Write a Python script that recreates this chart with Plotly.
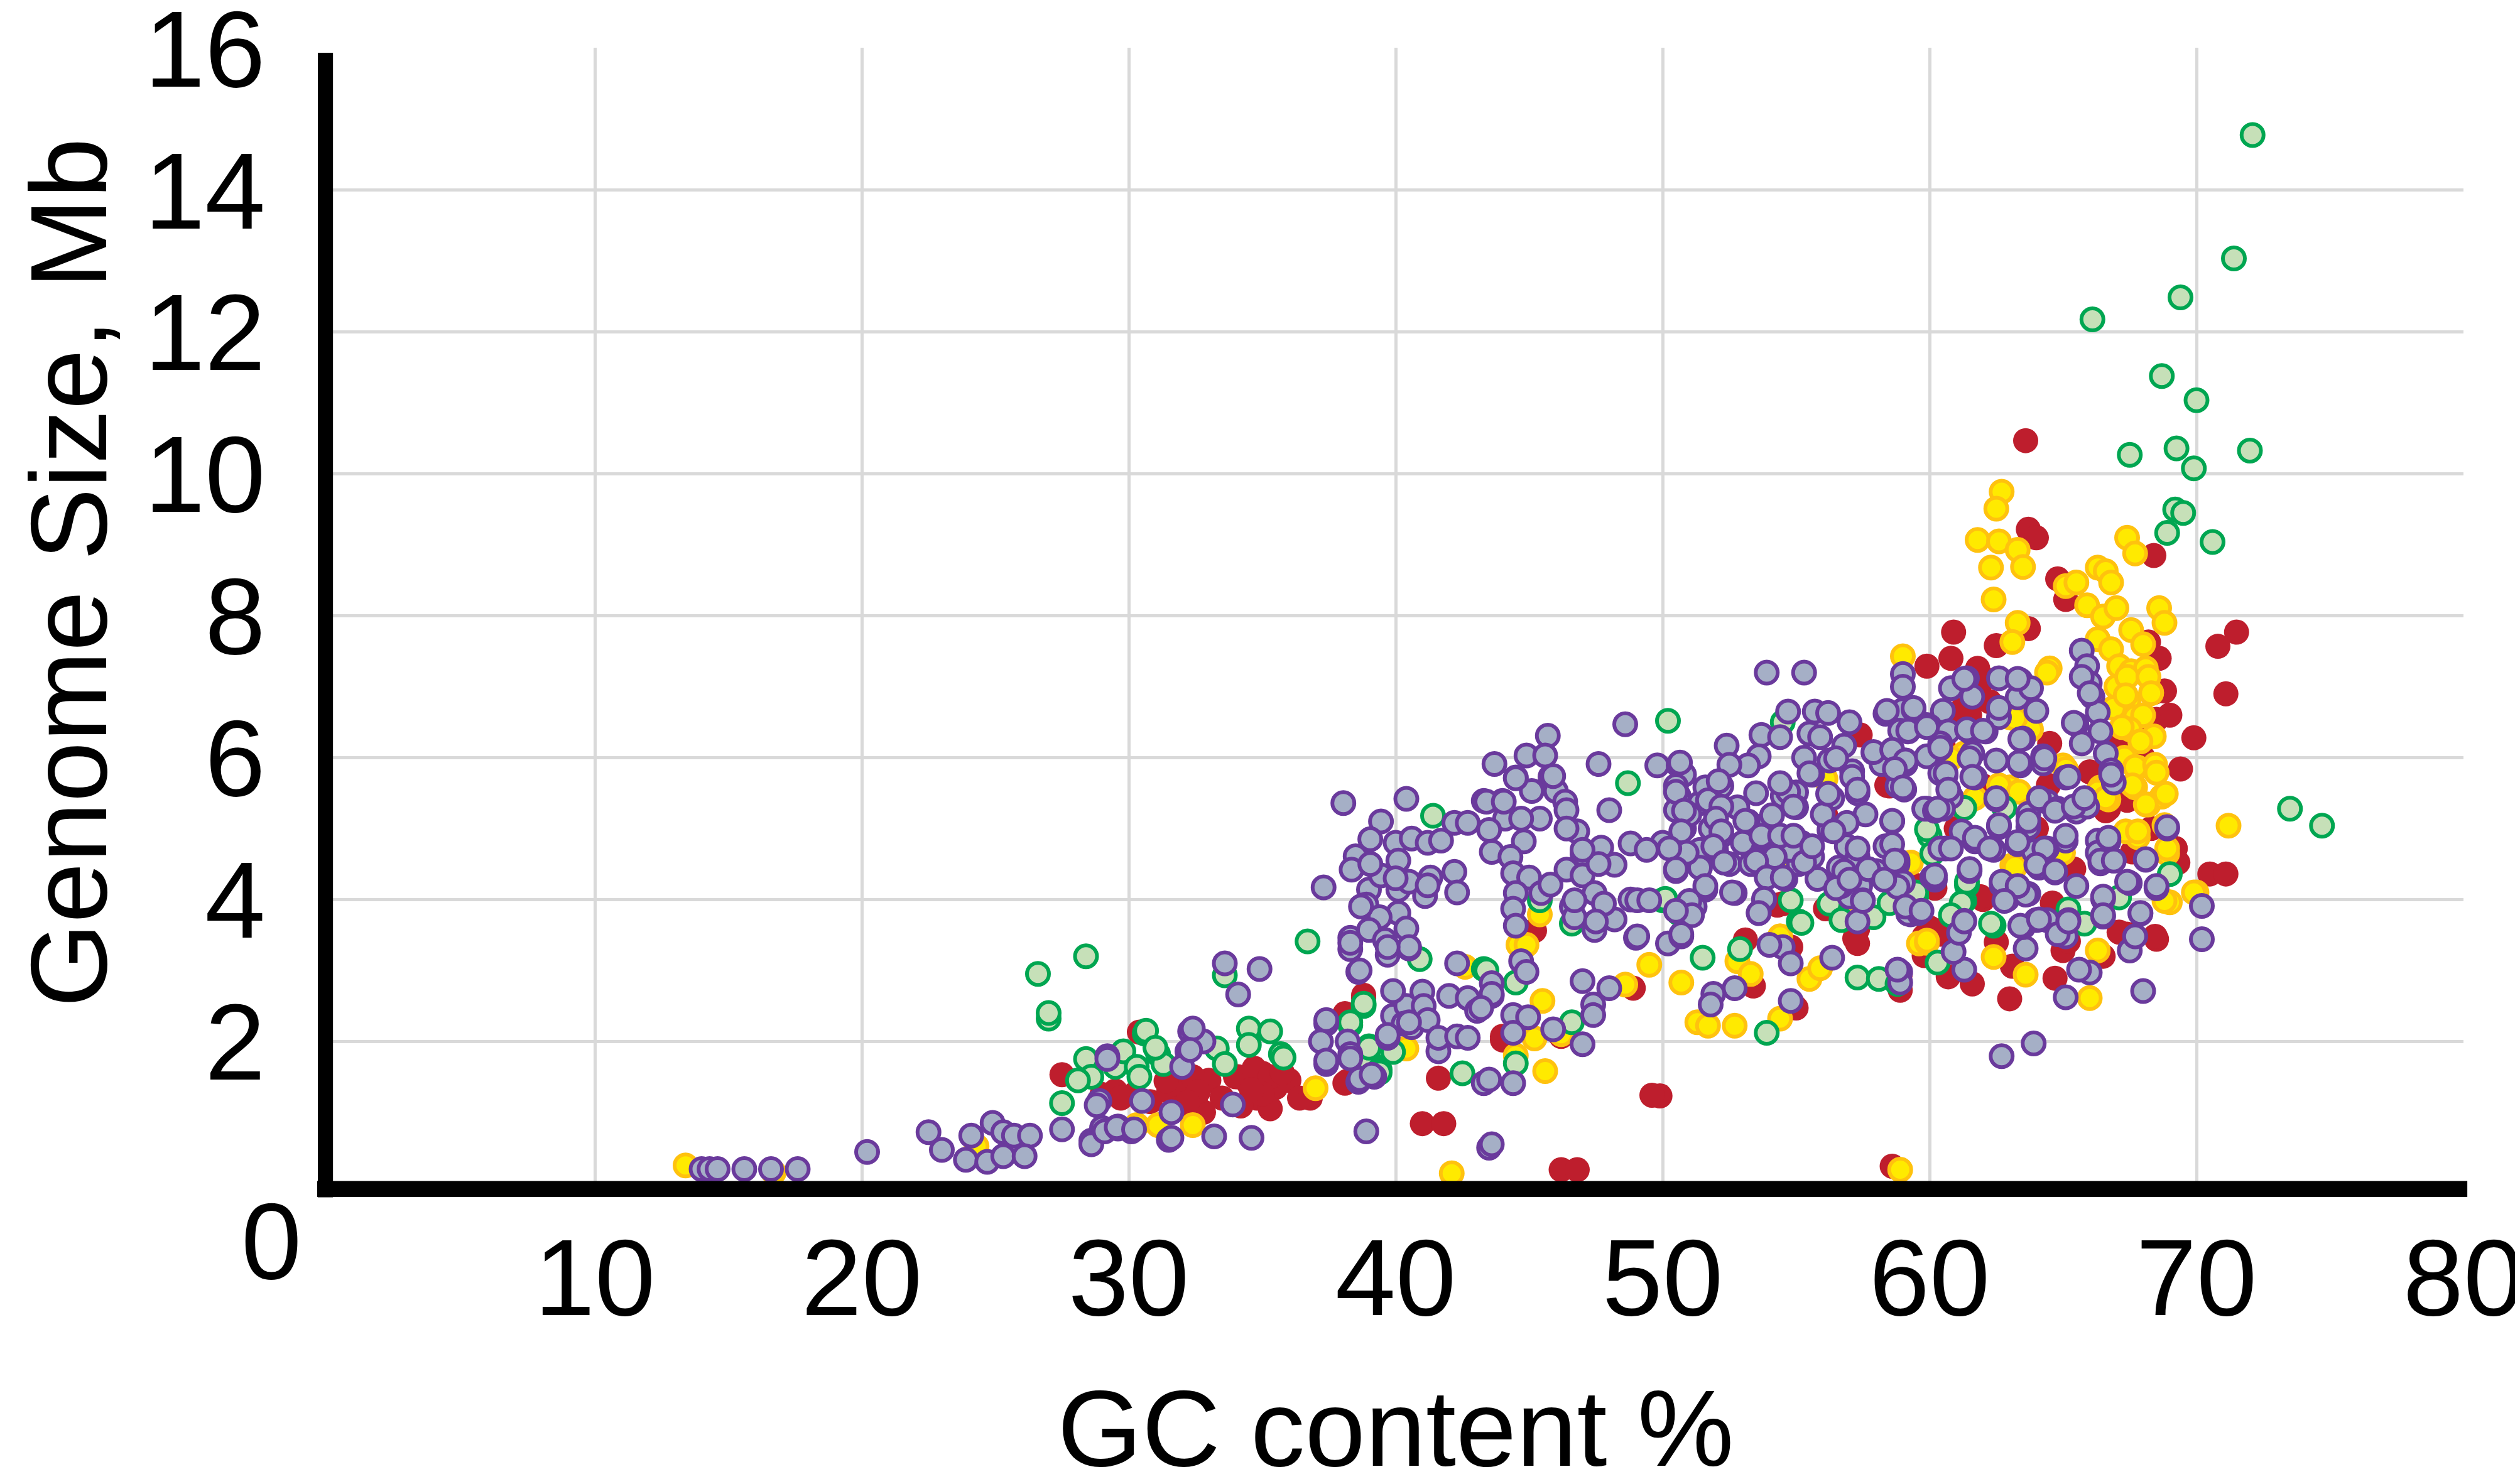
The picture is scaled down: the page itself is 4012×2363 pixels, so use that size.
import plotly.graph_objects as go

# ---------------- data: (GC content %, genome size Mb) per group ----------------
purple_pts = [
    (14.0,0.2),(14.3,0.2),(14.6,0.2),(15.6,0.2),(16.6,0.2),(17.6,0.2),(20.2,0.44),(22.5,0.72),(23.0,0.47),
    (24.1,0.67),(23.9,0.33),(24.7,0.3),(24.9,0.85),(25.3,0.72),(25.7,0.67),(26.3,0.67),(25.3,0.38),(26.1,0.38),
    (27.5,0.76),(28.6,0.6),(29.0,0.78),(29.6,0.8),(29.2,1.79),(28.9,1.16),
    (38.04,5.36),(40.4,5.42),(39.45,5.1),(39.05,4.85),(40.0,4.8),(40.6,4.86),(41.2,4.8),(41.7,4.83),(42.2,5.08),
    (42.7,5.08),(38.5,4.61),(40.1,4.55),(38.35,4.42),(39.0,4.14),(39.45,4.34),(40.1,4.14),(40.5,4.25),(41.3,4.31),
    (42.2,4.39),(41.1,4.05),(42.3,4.1),(38.9,3.93),(40.1,3.81),(39.4,3.75),(38.3,3.46),(39.0,3.57),(39.6,3.43),
    (40.4,3.59),(40.5,3.31),(39.7,3.22),(38.6,2.98),(37.3,4.17),(38.7,3.9),(39.05,4.5),(41.2,4.2),(40.0,4.3),(38.3,3.3),
    (33.6,3.1),(34.9,3.02),(34.1,2.66),(29.2,1.75),(28.8,1.1),(30.5,1.16),(31.6,1.0),(32.3,2.14),(32.5,2.05),
    (32.8,2.0),(32.2,1.86),(32.0,1.64),(33.9,1.11),
    (28.6,0.55),(29.1,0.73),(29.6,0.77),(30.1,0.73),(31.5,0.61),(33.2,0.66),(34.6,0.64),(38.9,0.73),(43.5,0.5),
    (37.4,2.25),(37.2,2.0),(38.2,2.0),(38.3,1.82),(37.4,1.68),(38.6,1.43),(39.2,1.5),(39.7,2.05),(39.9,2.36),
    (40.4,2.5),(40.3,2.25),(40.6,2.2),(41.0,2.7),(41.05,2.5),(41.2,2.3),(41.6,1.86),(41.6,2.05),
    (42.0,2.64),(42.3,3.1),(42.7,2.61),(43.05,2.43),(43.6,2.64),(43.6,2.82),(42.3,2.07),(42.7,2.05),(43.3,1.41),
    (43.7,5.91),(45.7,6.31),(44.9,6.03),(45.6,6.03),(47.6,5.91),(44.5,5.72),(45.8,5.73),(45.1,5.53),(46.0,5.53),
    (43.3,5.39),(44.0,5.39),(48.0,5.26),(44.1,5.14),(45.4,5.14),(44.7,5.14),(43.5,4.98),(46.35,5.38),(46.8,4.96),
    (44.8,4.82),(43.6,4.67),(44.3,4.6),(47.7,4.73),(47.0,4.64),(48.2,4.49),(48.8,4.79),(46.4,4.42),(47.0,4.34),
    (47.45,4.09),(48.2,3.72),(44.4,4.37),(45.0,4.31),(44.5,4.09),(45.45,4.09),(45.8,4.21),(44.4,3.87),(44.5,3.63),
    (46.6,3.9),(46.7,3.75),(47.45,3.57),(48.8,4.0),(49.0,3.46),(44.7,3.13),
    (43.4,5.38),(46.7,3.99),(47.8,3.94),(47.5,3.69),(46.4,5.26),(46.4,5.0),(47.6,4.5),(47.0,4.7),(48.6,6.47),
    (44.05,5.38),(44.5,5.71),(45.9,5.74),
    (53.9,7.2),(55.3,7.2),(59.0,7.18),(59.0,7.0),(54.7,6.65),(55.7,6.65),(53.7,6.32),(54.4,6.29),(55.5,6.34),
    (55.9,6.29),(52.4,6.17),(53.6,6.02),(53.2,5.89),(49.8,5.89),(50.6,5.89),(50.8,5.76),
    (44.9,2.98),(43.6,2.67),(43.2,2.47),(44.4,2.37),(44.96,2.34),(44.4,2.12),(45.9,2.17),(47.0,1.96),(43.5,1.46),
    (44.4,1.41),(47.0,2.85),(48.0,2.75),(47.4,2.52),(47.4,2.37),(43.6,0.55),
    (49.05,3.99),(49.5,3.99),(49.05,3.48),(50.2,3.38),(50.7,3.48),
    (50.5,5.6),(50.6,5.46),(50.5,5.26),(50.8,5.0),(50.5,4.8),(50.8,4.6),(50.5,4.4),(50.0,4.8),(49.4,4.7),
    (51.4,5.36),(52.2,5.6),(52.0,5.15),(52.2,4.9),(52.0,4.7),(51.4,4.7),(51.4,4.45),(52.5,4.5),(51.6,4.14),
    (51.2,3.9),(52.7,4.09),
    (53.2,5.1),(53.7,4.85),(54.4,4.9),(53.3,4.5),(53.9,4.34),(54.6,4.29),(53.8,3.99),(53.6,3.81),(54.5,5.46),
    (55.0,5.51),(55.0,5.3),(55.2,4.8),(55.1,4.5),(55.6,5.76),(56.25,5.96),(56.8,6.17),(57.1,5.81),(56.35,5.43),
    (56.25,4.98),(56.9,4.75),(56.6,4.45),(55.8,4.29),(57.3,5.5),(57.3,4.6),(57.4,4.19),(57.9,6.07),(58.2,5.91),
    (58.35,6.62),(59.0,6.67),(58.8,5.6),(59.1,5.91),(58.6,5.1),(58.35,4.75),(58.8,4.5),(59.0,4.24),(59.3,3.79),
    (57.0,4.04),(56.7,4.19),(57.3,3.69),(57.5,3.99),(56.35,3.18),(54.5,3.33),(54.8,3.1),(54.0,3.36),(58.9,2.98),
    (58.9,2.83),(54.8,2.57),(51.9,2.67),(51.8,2.52),(52.7,2.75),
    (51.0,5.2),(51.8,5.0),(52.8,5.3),(53.5,5.5),(54.0,5.1),(54.8,4.7),(55.6,4.6),(56.0,5.2),(57.6,5.2),(58.0,4.4),
    (53.0,4.8),(52.5,5.9),(55.3,6.0),(57.0,6.5),(56.2,6.63),
    (59.4,6.68),(60.8,6.98),(61.4,7.12),(61.6,6.86),(62.6,7.12),(63.4,7.09),(63.3,6.85),(63.8,6.98),(64.0,6.66),
    (60.5,6.66),(60.0,6.44),(59.2,6.37),(60.7,6.37),(61.5,6.37),(62.1,6.37),(62.6,6.57),(60.4,6.13),(61.6,6.06),
    (62.5,5.96),(63.4,5.89),(63.5,6.27),(64.25,5.92),(59.1,5.96),(60.6,5.75),(61.7,5.72),(59.05,5.55),(60.8,5.45),
    (62.5,5.41),(59.9,5.28),(60.5,5.28),(65.1,5.72),(63.7,5.21),(64.4,5.38),(64.8,5.28),(65.5,5.24),(65.9,5.31),
    (68.9,5.0),
    (65.7,7.51),(65.9,7.29),(66.0,7.05),(66.1,6.86),(66.3,6.64),(65.5,6.47),(66.4,6.37),(65.7,6.2),(66.6,6.06),
    (66.8,5.82),(66.9,5.65),(65.7,7.14),(66.0,6.91),(65.4,6.49),(66.8,5.76),
    (70.2,3.91),(70.2,3.44),(68.0,2.71),(63.9,1.97),(62.7,1.79),(65.1,2.62),(66.0,2.97),(65.6,3.01),(63.6,3.31),
    (61.3,3.01),(60.9,3.26),(58.8,3.01),(61.1,3.53),(61.3,3.7),(63.5,3.61),(64.0,3.71),(64.4,3.71),(65.1,3.48),
    (65.2,3.71),(66.5,4.01),(66.5,3.76),(67.5,4.23),(67.9,3.8),(67.7,3.48),(67.5,3.28),(68.5,4.16),(68.1,4.56),
    (62.9,4.0),(63.3,4.18),(63.7,4.08),(62.7,4.2),(61.5,4.4),(60.2,4.28),(58.8,4.18),(59.2,3.8),(59.6,3.81),
    (60.6,4.72),(61.7,4.82),(62.4,4.7),(63.3,4.78),(64.1,4.45),(64.7,4.38),(64.4,4.72),(63.9,4.68),(65.1,4.83),
    (66.4,4.51),(66.9,4.55),(66.7,4.82),(66.3,4.83),(62.6,5.02),(63.7,5.02),(58.8,4.55),
    (58.4,6.66),(59.4,6.7),(58.9,6.38),(59.2,6.38),(59.9,6.46),(57.9,6.08),(58.6,6.11),(59.1,5.96),(59.9,6.02),
    (58.7,5.84),(59.0,5.58),(59.8,5.28),(60.2,5.25),
    (50.65,5.93),(50.5,5.52),(50.8,5.25),(50.7,4.96),(50.9,4.66),(50.25,4.72),(50.5,4.43),(51.6,5.58),(51.7,5.4),
    (52.1,5.67),(52.2,5.31),(52.0,5.14),(52.2,4.96),(51.9,4.75),(52.3,4.52),(51.6,4.19),(51.0,3.98),(51.1,3.78),
    (50.7,3.51),(50.5,3.84),
    (53.1,5.11),(53.7,4.9),(54.1,5.19),(54.4,4.9),(54.2,4.6),(53.5,4.54),(53.9,4.31),(54.5,4.31),(53.8,4.01),
    (53.6,3.81),(52.6,4.1),(54.7,5.52),(54.9,5.31),(54.4,5.64),(54.9,4.9),(55.3,4.52),(55.6,4.75),(55.5,5.78),
    (56.2,5.49),(56.5,5.99),(57.1,5.73),(57.3,5.55),(56.9,5.08),(56.4,4.96),(57.3,4.72),(56.8,4.4),(57.7,4.43),
    (56.5,4.16),(57.0,4.28),(57.5,3.98),(58.6,5.11),(58.6,4.78),(58.7,4.55),(58.3,4.28),(59.1,3.9),(59.7,3.84),
    (60.1,4.31),(60.4,4.72),(60.4,5.78),(60.4,6.2),
    (61.3,7.11),(63.3,7.11),(59.9,6.43),(61.4,6.4),(62.0,6.38),(62.6,6.7),(60.4,6.14),(61.5,5.99),(63.35,5.93),
    (63.4,6.26),(64.25,6.02),(60.6,5.78),(61.6,5.73),(60.7,5.55),(60.3,5.28),(61.2,4.96),(61.7,4.87),(62.25,4.72),
    (62.5,5.43),(60.8,4.72),(60.2,4.34),(61.5,4.43),(62.6,5.05),(63.3,4.81),(63.7,5.11),(64.1,5.43),(64.7,5.25),
    (65.4,5.31),(65.8,5.43),(65.1,4.9),(64.3,4.72),(64.0,4.49),(64.7,4.4),(63.6,4.07),(62.7,4.25),(63.3,4.19),
    (62.8,3.98),(61.3,3.69),(63.4,3.63),(64.1,3.72),(64.8,3.51),(65.2,3.69),(65.5,4.19),(66.5,4.04),(66.5,3.78),
    (66.3,4.66),(66.4,4.55),(66.9,4.55),(66.7,4.87),(67.4,4.25),(68.1,4.57),(68.5,4.19),(68.9,5.02),(67.9,3.81),
    (67.7,3.48),(65.2,5.73),(64.3,5.99),
    (29.55,0.79),(30.2,0.76),(31.6,0.64),(32.4,2.18),(32.3,1.88),(37.4,2.3),(38.3,1.76),(37.4,1.73),(38.65,1.47),
    (39.1,1.53),(39.7,2.09),(39.9,2.71),(40.5,2.27),(40.5,3.33),(39.7,3.33),(38.3,3.39),(38.65,3.0),
]

green_pts = [
    (26.6,2.95),(28.4,3.2),(27.0,2.32),(27.0,2.4),(27.5,1.13),
    (41.4,5.18),(40.9,3.16),(36.7,3.41),(33.6,2.93),
    (28.4,1.75),(28.6,1.5),(28.1,1.45),(29.5,1.64),(29.8,1.86),(30.3,1.64),(30.6,2.11),(31.1,1.82),(31.3,1.68),
    (30.4,1.5),(33.3,1.9),(33.6,1.68),(34.5,2.18),(35.3,2.14),(34.5,1.95),(35.7,1.82),(35.8,1.77),
    (38.8,2.5),(38.3,2.23),(39.0,1.93),(39.0,1.73),(39.4,1.6),(43.3,3.02),(42.5,1.55),
    (50.2,6.52),(48.7,5.64),(45.4,3.99),(46.6,3.66),(43.4,3.0),(44.5,2.83),(46.6,2.27),(44.5,1.69),(50.0,3.99),
    (50.6,3.81),(51.05,3.91),(52.9,3.3),(51.5,3.18),(53.9,2.12),(57.3,2.9),(58.1,2.88),(55.1,3.69),(54.8,3.99),
    (56.25,3.94),(56.7,3.71),(54.5,6.5),
    (61.3,5.29),(62.8,5.29),(60.0,4.9),(73.5,5.28),(74.7,5.04),(60.3,3.11),(58.8,2.81),(62.4,3.63),(65.2,3.86),
    (65.8,3.66),(67.1,4.03),(69.0,4.36),(61.4,4.2),(61.3,3.98),(59.5,4.05),(60.1,4.65),
    (72.1,14.78),(71.4,13.04),(69.4,12.49),(66.1,12.18),(68.7,11.38),(70.0,11.04),(67.5,10.27),(69.25,10.36),
    (69.9,10.08),(72.0,10.33),(69.2,9.5),(69.5,9.45),(68.9,9.17),(70.6,9.04),
    (55.2,3.67),(57.9,3.75),(59.9,4.99),(59.5,4.1),(58.5,3.95),(50.1,4.01),(50.6,3.81),(61.4,4.25),(61.2,3.95),
    (60.8,3.78),(62.3,3.66),
    (30.65,2.15),(31.0,1.91),(38.8,2.53),(38.3,2.27),(39.0,1.91),(39.9,1.85),(39.4,1.56),
]

red_pts = [
    (27.5,1.53),(29.5,1.3),(30.2,1.25),(30.8,1.15),(31.5,1.3),(32.0,1.4),(32.5,1.2),(33.0,1.45),(31.8,1.05),
    (32.8,1.0),(34.0,1.5),(34.5,1.4),(35.0,1.55),(35.5,1.35),(36.0,1.45),(34.8,1.2),(35.3,1.05),(33.5,1.2),
    (29.0,1.25),(29.7,1.2),(30.4,2.13),(36.4,1.2),(36.8,1.2),
    (38.8,2.61),(38.1,2.39),(38.1,1.41),(41.0,0.84),(41.8,0.84),(41.6,1.48),(44.0,2.02),
    (45.2,3.56),(44.0,2.07),(46.2,2.07),(48.9,2.75),(49.9,1.23),(49.6,1.24),(46.2,0.19),(46.8,0.19),(53.1,3.43),
    (53.4,2.78),(54.8,3.33),(55.0,2.47),(57.3,3.38),(57.3,3.58),(58.9,2.72),(57.4,6.32),(56.1,5.2),(58.5,5.6),
    (54.5,3.94),(58.6,0.24),
    (63.6,10.47),(63.7,9.22),(64.0,9.1),(68.4,8.85),(64.8,8.52),(65.1,8.23),(63.7,7.82),(60.9,7.77),(62.5,7.58),
    (71.5,7.77),(70.8,7.57),(71.1,6.9),(69.9,6.28),(69.4,5.84),(68.2,7.63),(68.6,7.4),(68.4,6.92),(68.5,6.54),
    (59.9,7.29),(60.8,7.4),(62.0,7.12),(61.8,7.26),(61.2,6.64),(66.7,5.28),(67.1,5.55),
    (70.5,4.36),(71.1,4.36),(64.7,2.89),(63.1,3.06),(61.6,2.81),(60.7,2.91),(59.8,3.21),(58.9,2.95),(65.0,3.28),
    (65.2,3.41),(68.5,3.44),(67.4,3.51),(62.0,4.0),(65.3,4.42),(67.6,4.67),(69.2,4.72),
    (60.5,6.2),(61.5,6.6),(59.5,4.2),(61.0,5.0),(62.0,5.6),(64.5,6.2),(66.0,5.8),(67.0,6.2),(68.0,6.0),(69.0,6.6),
    (60.0,3.6),(62.5,3.4),(63.0,2.6),(66.5,3.2),(64.0,5.0),(68.3,5.0),
    (58.4,5.61),(54.3,3.92),(56.1,3.87),(57.2,3.45),(59.3,4.52),(60.2,4.16),(60.4,3.51),(59.8,3.48),
    (66.6,5.25),(67.4,5.4),(68.2,6.55),(68.8,6.94),(65.4,4.43),(64.45,5.61),(61.9,7.05),(61.2,6.67),(62.25,6.79),
    (69.2,4.72),(69.3,4.52),(68.45,3.48),(67.1,3.54),(64.6,3.95),(61.9,4.04),(60.5,3.57),(64.2,4.52),
    (31.4,1.44),(32.4,1.5),(32.6,1.29),(32.2,1.14),(34.1,1.5),(34.7,1.62),(35.3,1.5),(35.75,1.56),(34.2,1.09),
    (35.0,1.26),(34.6,1.32),(38.8,2.65),(38.2,1.44),
]

yellow_pts = [
    (13.4,0.25),(16.7,0.15),(24.3,0.52),
    (37.0,1.34),(31.1,0.82),(32.4,0.82),(30.3,0.82),(40.4,1.9),(42.6,3.05),(42.1,0.14),
    (45.4,3.79),(44.6,3.36),(44.9,3.36),(45.5,2.57),(45.2,2.04),(46.2,2.1),(44.5,1.8),(45.6,1.58),(48.6,2.8),
    (49.5,3.08),(52.8,3.13),(53.3,2.95),(54.4,3.48),(50.7,2.83),(51.3,2.27),(51.7,2.22),(52.7,2.22),(54.4,2.32),
    (55.5,2.88),(55.9,3.03),(58.9,0.19),(59.6,3.38),(59.0,7.43),
    (62.7,9.75),(62.5,9.51),(61.8,9.07),(62.6,9.05),(63.3,8.93),(63.5,8.69),(62.3,8.68),(62.4,8.23),(67.4,9.1),
    (67.7,8.88),(65.1,8.42),(65.5,8.47),(66.3,8.68),(66.6,8.63),(66.8,8.47),(65.9,8.15),(66.5,7.99),(67.0,8.11),
    (67.55,7.8),(68.6,8.11),(68.8,7.9),(63.3,7.9),(63.1,7.63),(66.3,7.67),(66.8,7.53),(67.1,7.29),(67.55,7.22),
    (68.1,7.26),(68.3,6.92),(67.45,6.81),(67.7,6.57),(67.9,6.23),(67.8,5.86),(68.5,5.79),(67.7,5.58),(68.2,5.34),
    (68.7,5.45),(66.7,5.41),(66.4,5.58),(64.5,7.26),(63.0,6.57),(63.8,6.4),(61.3,6.06),(63.0,5.58),(65.0,5.89),
    (71.2,5.04),(67.2,6.9),(68.0,6.6),(67.3,6.0),(68.4,6.3),(67.0,7.0),(67.5,6.4),(68.0,7.6),(66.9,6.7),
    (70.0,4.1),(66.0,2.61),(66.3,3.28),(63.6,2.94),(62.4,3.19),(59.9,3.39),(63.1,4.48),(67.8,4.88),(68.9,4.65),
    (69.0,3.96),
    (56.1,5.7),(59.3,4.52),(54.6,4.46),(54.4,3.48),(56.8,3.92),(59.9,3.42),
    (67.4,7.14),(68.2,7.14),(67.35,6.88),(68.3,6.91),(67.2,6.43),(67.9,6.23),(67.7,5.87),(68.45,5.9),(68.5,5.79),
    (67.6,5.61),(68.85,5.49),(68.1,5.34),(66.3,5.52),(66.6,5.43),(67.35,4.96),(67.8,4.96),(68.8,5.05),(68.9,4.72),
    (68.8,3.98),(69.9,4.1),(63.2,6.55),(62.6,5.61),(63.35,5.52),(65.1,5.84),(60.8,5.99),(61.7,5.43),(63.2,4.46),
    (65.0,4.66),(64.4,7.2),
]

x_ticks = [10, 20, 30, 40, 50, 60, 70, 80]
y_ticks = [2, 4, 6, 8, 10, 12, 14, 16]
x_grid = [10, 20, 30, 40, 50, 60, 70]
y_grid = [2, 4, 6, 8, 10, 12, 14]

FONT = "Liberation Sans, Arial, Helvetica, sans-serif"
FS = 173

fig = go.Figure()

def add(pts, fill, line, lw, size):
    fig.add_trace(go.Scatter(
        x=[p[0] for p in pts], y=[p[1] for p in pts], mode="markers",
        marker=dict(size=size, color=fill, line=dict(color=line, width=lw)),
        hoverinfo="x+y", cliponaxis=False))

add(red_pts, "#BE1E2D", "#BE1E2D", 0, 40)
add(yellow_pts, "#FFEA00", "#FFC20E", 6, 35)
add(green_pts, "#C6E0B8", "#00A651", 6, 35)
add(purple_pts, "#A5AFC6", "#6A3A9C", 6, 35)

fig.update_layout(
    width=4012, height=2363,
    margin=dict(l=514, r=98, t=68, b=487),
    plot_bgcolor="white", paper_bgcolor="white",
    showlegend=False,
    font=dict(family=FONT, size=FS, color="black"),
    xaxis=dict(
        range=[0, 80], tickmode="array", tickvals=x_ticks,
        ticktext=[str(v) for v in x_ticks],
        ticks="outside", ticklen=1, tickcolor="rgba(0,0,0,0)",
        ticklabeloverflow="allow",
        showgrid=False, zeroline=False, showline=False, automargin=False,
        minor=dict(tickmode="array", tickvals=x_grid, showgrid=True,
                   gridcolor="#D9D9D9", gridwidth=5, ticks=""),
        title=dict(text="GC content %", standoff=154, font=dict(size=FS)),
    ),
    yaxis=dict(
        range=[0, 16.01], tickmode="array", tickvals=y_ticks,
        ticktext=[str(v) for v in y_ticks],
        ticks="outside", ticklen=64, tickcolor="rgba(0,0,0,0)",
        ticklabeloverflow="allow",
        showgrid=False, zeroline=False, showline=False, automargin=False,
        minor=dict(tickmode="array", tickvals=y_grid, showgrid=True,
                   gridcolor="#D9D9D9", gridwidth=5, ticks=""),
    ),
)

# thick black axis bars (paper coordinates)
fig.add_shape(type="rect", xref="paper", yref="paper",
              x0=-0.0047, x1=0.0024, y0=-0.0125, y1=0.9956,
              fillcolor="black", line=dict(width=0), layer="above")
fig.add_shape(type="rect", xref="paper", yref="paper",
              x0=-0.005, x1=1.0018, y0=-0.0122, y1=0.002,
              fillcolor="black", line=dict(width=0), layer="above")

# y axis title (positioned like the original, slightly above centre)
fig.add_annotation(x=-0.1215, y=0.538, xref="paper", yref="paper",
                   text="Genome Size, Mb", textangle=-90, showarrow=False,
                   font=dict(family=FONT, size=FS, color="black"),
                   xanchor="center", yanchor="middle")

# the separate "0" label below the origin
fig.add_annotation(x=-0.0265, y=-0.0509, xref="paper", yref="paper", text="0",
                   showarrow=False, font=dict(family=FONT, size=FS, color="black"),
                   xanchor="center", yanchor="middle")

fig.write_html("out.html")
